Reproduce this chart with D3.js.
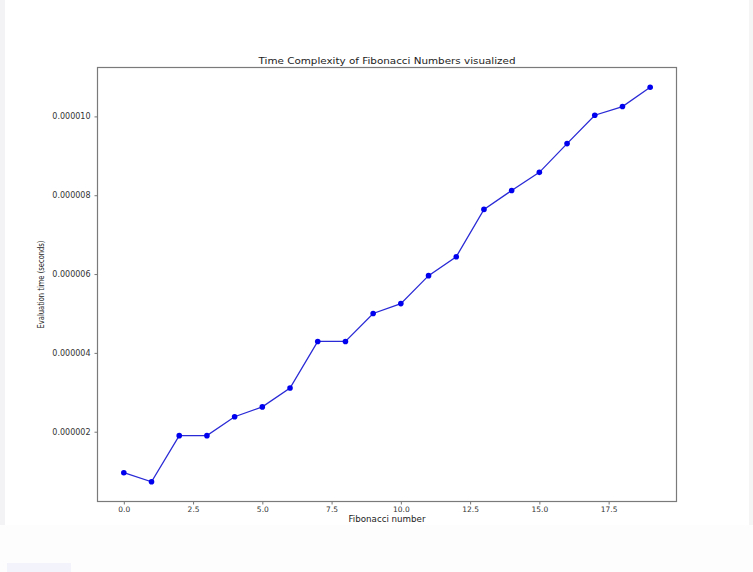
<!DOCTYPE html>
<html>
<head>
<meta charset="utf-8">
<script src="https://cdn.jsdelivr.net/npm/d3@7"></script>
<style>
  html, body { margin: 0; padding: 0; background: #ffffff; }
  svg { display: block; }
</style>
</head>
<body>
<svg id="chart" width="753" height="572"></svg>
<script>
const fibIndex = [0,1,2,3,4,5,6,7,8,9,10,11,12,13,14,15,16,17,18,19];
const evalTimes = [0.96e-6,0.73e-6,1.90e-6,1.90e-6,2.38e-6,2.63e-6,3.11e-6,4.29e-6,4.29e-6,5.00e-6,
                   5.25e-6,5.96e-6,6.44e-6,7.64e-6,8.12e-6,8.58e-6,9.31e-6,10.03e-6,10.25e-6,10.74e-6];
const xTicks = [0,2.5,5,7.5,10,12.5,15,17.5];
const yTicks = [2e-6,4e-6,6e-6,8e-6,10e-6];
const titleText = "Time Complexity of Fibonacci Numbers visualized";
const xLabel = "Fibonacci number";
const yLabel = "Evaluation time (seconds)";

const svg = d3.select("#chart");
// faint page artefacts
svg.append("rect").attr("x",0).attr("y",0).attr("width",5).attr("height",525).attr("fill","#f3f3f5");
svg.append("rect").attr("x",749).attr("y",0).attr("width",4).attr("height",525).attr("fill","#f5f5f5");
svg.append("rect").attr("x",0).attr("y",525).attr("width",753).attr("height",47).attr("fill","#fdfdfd");
svg.append("rect").attr("x",7).attr("y",563).attr("width",64).attr("height",9).attr("fill","#f3f3fb");

const pL = 97.5, pR = 676.5, pT = 67.5, pB = 501.5;
const yMin = d3.min(evalTimes), yMax = d3.max(evalTimes);
const yPad = (yMax - yMin) * 0.05;
const x = d3.scaleLinear().domain([-0.95, 19.95]).range([pL, pR]);
const y = d3.scaleLinear().domain([yMin - yPad, yMax + yPad]).range([pB, pT]);

const font = "'DejaVu Sans', sans-serif";

// axes
const xAxis = d3.axisBottom(x).tickValues(xTicks).tickFormat(d3.format(".1f")).tickSize(3).tickPadding(2);
const yAxis = d3.axisLeft(y).tickValues(yTicks).tickFormat(d3.format(".6f")).tickSize(3).tickPadding(4);

const gx = svg.append("g").attr("transform", `translate(0,${pB})`).call(xAxis);
const gy = svg.append("g").attr("transform", `translate(${pL},0)`).call(yAxis);
[gx, gy].forEach(g => {
  g.select(".domain").remove();
  g.selectAll(".tick line").attr("stroke", "#777");
  g.selectAll(".tick text").attr("fill", "#333").style("font-family", font).style("font-size", "8px");
});
gx.selectAll(".tick text").style("font-size", "7.5px");

// spines
svg.append("rect").attr("x", pL).attr("y", pT).attr("width", pR - pL).attr("height", pB - pT)
  .attr("fill", "none").attr("stroke", "#7a7a7a").attr("stroke-width", 1.2);

// line
const line = d3.line().x((d, i) => x(fibIndex[i])).y(d => y(d));
svg.append("path").datum(evalTimes).attr("d", line)
  .attr("fill", "none").attr("stroke", "#2a2ad6").attr("stroke-width", 1.3);
svg.selectAll("circle.pt").data(evalTimes).enter().append("circle")
  .attr("class", "pt")
  .attr("cx", (d, i) => x(fibIndex[i])).attr("cy", d => y(d)).attr("r", 2.8)
  .attr("fill", "#0000ee");

// title and labels
svg.append("text").attr("x", (pL + pR) / 2).attr("y", 64).attr("text-anchor", "middle")
  .attr("textLength", 257).attr("lengthAdjust", "spacingAndGlyphs")
  .style("font-family", font).style("font-size", "9.5px").attr("fill", "#222").text(titleText);
svg.append("text").attr("x", (pL + pR) / 2).attr("y", 522).attr("text-anchor", "middle")
  .attr("textLength", 77).attr("lengthAdjust", "spacingAndGlyphs")
  .style("font-family", font).style("font-size", "8px").attr("fill", "#222").text(xLabel);
svg.append("text").attr("transform", `translate(44,${(pT + pB) / 2}) rotate(-90)`).attr("text-anchor", "middle")
  .attr("textLength", 88).attr("lengthAdjust", "spacingAndGlyphs")
  .style("font-family", font).style("font-size", "8px").attr("fill", "#222").text(yLabel);
</script>
</body>
</html>
